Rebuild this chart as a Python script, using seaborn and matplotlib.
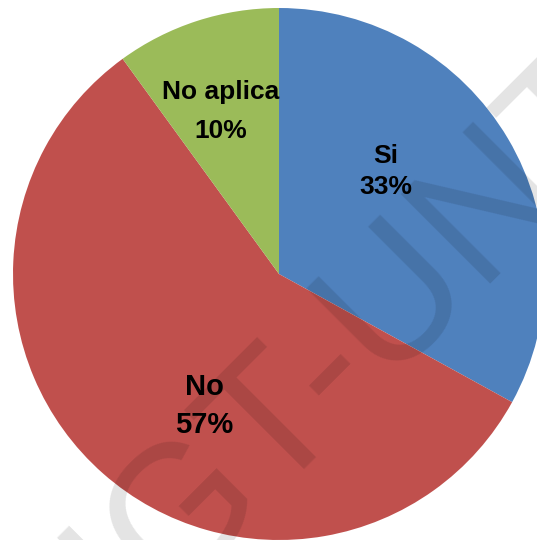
import matplotlib
matplotlib.use("Agg")
import matplotlib.pyplot as plt
import seaborn as sns

# Survey answers and their shares (percent)
categories = ["Si", "No", "No aplica"]
shares = [33, 57, 10]
slice_colors = ["#4F81BD", "#C0504D", "#9BBB59"]

# Label placement in pie data units (radius = 1):
# x centre, baseline of the name line, baseline of the percent line
label_pos = {"Si": (0.402, 0.417, 0.299),
             "No": (-0.282, -0.455, -0.598),
             "No aplica": (-0.218, 0.657, 0.510)}
label_size = {"Si": 19, "No": 21, "No aplica": 19}

sns.set_theme(style="white")
plt.rcParams["font.family"] = ["Liberation Sans", "DejaVu Sans"]

fig = plt.figure(figsize=(5.37, 5.40), dpi=100)
ax = fig.add_axes([0, 0, 1, 1])

palette = sns.color_palette(slice_colors)
ax.pie(shares, colors=palette, startangle=90, counterclock=False,
       radius=1.0, center=(0, 0), wedgeprops=dict(linewidth=0))

for name, val in zip(categories, shares):
    x, y_name, y_val = label_pos[name]
    style = dict(ha="center", va="baseline", fontsize=label_size[name],
                 fontweight="bold", color="black", zorder=5)
    ax.text(x, y_name, name, **style)
    ax.text(x, y_val, f"{val}%", **style)

# Diagonal watermark across the chart
ax.text(0.412, -0.355, "IGT-UNT", rotation=45, rotation_mode="anchor",
        ha="center", va="baseline", fontsize=132, color="black", alpha=0.11,
        zorder=4)

ax.set_aspect("auto")
ax.set_xlim(-1.0489, 0.9699)
ax.set_ylim(-1.0, 1.0301)
ax.axis("off")

fig.savefig("out.png", dpi=100, facecolor="white")
